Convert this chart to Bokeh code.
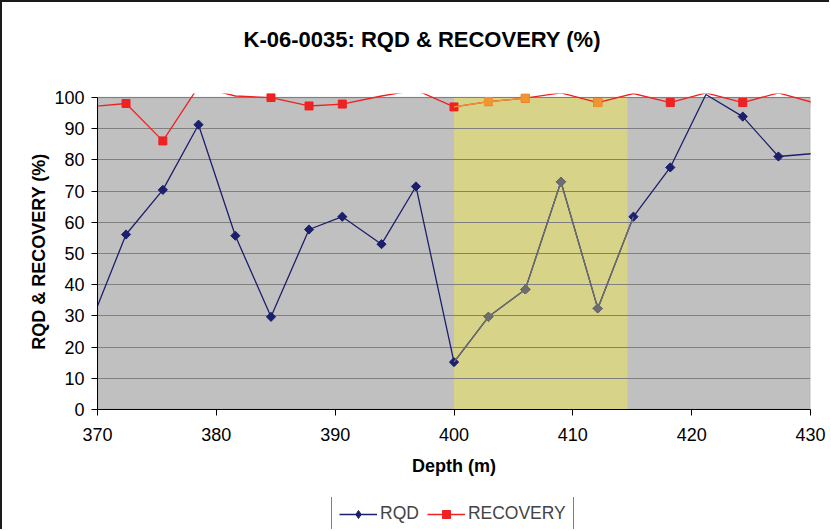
from bokeh.plotting import figure
from bokeh.layouts import column
from bokeh.models import BoxAnnotation, FixedTicker, Legend, LegendItem, ColumnDataSource, Range1d
from bokeh.embed import file_html
from bokeh.resources import INLINE

# ---------------- data ----------------
depth = [369.3, 372.4, 375.5, 378.5, 381.6, 384.6, 387.8, 390.6, 393.9, 396.8,
         400.0, 402.9, 406.0, 409.0, 412.1, 415.1, 418.2, 421.2, 424.3, 427.3, 430.4]
rqd = [26.5, 56.1, 70.4, 91.3, 55.7, 29.7, 57.7, 61.8, 53.0, 71.5,
       15.2, 29.7, 38.5, 73.0, 32.4, 61.8, 77.6, 101.0, 93.9, 81.1, 82.1]
recovery = [97.0, 98.1, 86.1, 103.5, 100.5, 100.0, 97.3, 97.9, 100.5, 102.4,
            97.0, 98.7, 99.8, 101.5, 98.4, 101.3, 98.4, 101.5, 98.4, 101.5, 98.2]
band_start, band_end = 400.0, 414.6          # highlighted depth interval
x_ticks = [370, 380, 390, 400, 410, 420, 430]
y_ticks = [0, 10, 20, 30, 40, 50, 60, 70, 80, 90, 100]
title_text = "K-06-0035: RQD & RECOVERY (%)"
x_label = "Depth (m)"
y_label = "RQD & RECOVERY (%)"
series_names = ["RQD", "RECOVERY"]

X_MIN, X_MAX = 370, 430
Y_MIN, Y_MAX = 0, 100
Y_TOP = 101.3   # lines overshoot a little above the 100 line before clipping

FONT = "Liberation Sans"
NAVY = "#1c1f6c"
RED = "#ee2222"
ORANGE = "#f0952f"
GREY_HL = "#6e6e6e"

W = 829
H_MAIN = 497
H_LEG = 32

p = figure(width=W, height=H_MAIN, x_range=(X_MIN, X_MAX), y_range=(Y_MIN, Y_TOP),
           output_backend="svg", toolbar_location=None,
           title=title_text + "\n",   # blank second line lifts the title upward
           min_border_left=95, min_border_right=21, min_border_top=91, min_border_bottom=90)
p.outline_line_color = None
p.background_fill_color = "white"
p.border_fill_color = "white"

# title
p.title.text_font = FONT
p.title.text_font_size = "22px"
p.title.text_font_style = "bold"
p.title.text_color = "black"
p.title.align = "left"
p.title.vertical_align = "bottom"
p.title.offset = 146
p.title.standoff = 33

# plot area background + highlighted band
p.add_layout(BoxAnnotation(left=X_MIN, right=X_MAX, bottom=Y_MIN, top=Y_MAX,
                           fill_color="#c0c0c0", fill_alpha=1.0,
                           line_color="#808080", line_width=1.5, level="image"))
p.add_layout(BoxAnnotation(left=band_start, right=band_end, bottom=Y_MIN, top=Y_MAX,
                           fill_color="#d7d48a", fill_alpha=1.0, line_color=None,
                           level="image"))

# grid
p.xgrid.visible = False
p.ygrid.ticker = FixedTicker(ticks=y_ticks)
p.ygrid.grid_line_color = "#808080"
p.ygrid.grid_line_width = 1.2

# axes
for ax in (p.xaxis[0], p.yaxis[0]):
    ax.axis_line_color = "black"
    ax.axis_line_width = 1
    ax.major_tick_line_color = "black"
    ax.major_tick_out = 6
    ax.major_tick_in = 0
    ax.minor_tick_line_color = None
    ax.major_label_text_font = FONT
    ax.major_label_text_font_size = "18px"
    ax.major_label_text_color = "black"
    ax.axis_label_text_font = FONT
    ax.axis_label_text_font_size = "18px"
    ax.axis_label_text_font_style = "bold"
    ax.axis_label_text_color = "black"

p.xaxis.ticker = FixedTicker(ticks=x_ticks)
p.yaxis.ticker = FixedTicker(ticks=y_ticks)
p.xaxis.axis_label = x_label
p.yaxis.axis_label = y_label
p.yaxis.bounds = (Y_MIN, Y_MAX)
p.xaxis.major_label_standoff = 12
p.xaxis.axis_label_standoff = 12
p.yaxis.major_label_standoff = 7
p.yaxis.axis_label_standoff = 2

# ---------------- series ----------------
src = ColumnDataSource(dict(depth=depth, rqd=rqd, recovery=recovery))

# markers are shown only where the value lies inside the value axis
rec_vis = [(d, v) for d, v in zip(depth, recovery) if v <= Y_MAX]
rqd_vis = [(d, v) for d, v in zip(depth, rqd) if v <= Y_MAX]

p.line("depth", "recovery", source=src, line_color=RED, line_width=1.3)
p.scatter([d for d, _ in rec_vis], [v for _, v in rec_vis], marker="square",
          size=8, fill_color=RED, line_color=RED)

p.line("depth", "rqd", source=src, line_color=NAVY, line_width=1.3)
p.scatter([d for d, _ in rqd_vis], [v for _, v in rqd_vis], marker="square",
          angle=0.7854, size=6.5, fill_color=NAVY, line_color=NAVY)

# highlighted interval (drawn over the main series)
hl = [i for i, d in enumerate(depth) if band_start <= d <= band_end]
g_idx = hl + [hl[-1] + 1]
p.line([depth[i] for i in g_idx], [rqd[i] for i in g_idx], line_color=GREY_HL, line_width=1.3)
p.scatter([depth[i] for i in hl[1:]], [rqd[i] for i in hl[1:]], marker="square",
          angle=0.7854, size=6.5, fill_color=GREY_HL, line_color=GREY_HL)
seg = [(hl[k], hl[k + 1]) for k in range(len(hl) - 1)
       if recovery[hl[k]] <= Y_MAX and recovery[hl[k + 1]] <= Y_MAX]
p.segment([depth[a] for a, b in seg], [recovery[a] for a, b in seg],
          [depth[b] for a, b in seg], [recovery[b] for a, b in seg],
          line_color=ORANGE, line_width=1.3)
o_idx = [i for i in hl[1:] if recovery[i] <= Y_MAX]
p.scatter([depth[i] for i in o_idx], [recovery[i] for i in o_idx], marker="square",
          size=8, fill_color=ORANGE, line_color=ORANGE)

# ---------------- legend strip below the chart ----------------
lg = figure(width=W, height=H_LEG, x_range=Range1d(0, 1), y_range=Range1d(0, 1),
            output_backend="svg", toolbar_location=None,
            x_axis_type=None, y_axis_type=None, min_border=0)
lg.outline_line_color = None
lg.grid.visible = False
lg.background_fill_color = "white"
lg.border_fill_color = "white"
# same series styles; the data lie outside this strip's ranges so only the legend shows
l_rqd_line = lg.line(depth, rqd, line_color=NAVY, line_width=1.3)
l_rqd_pts = lg.scatter(depth, rqd, marker="diamond", size=11,
                       fill_color=NAVY, line_color=NAVY)
l_rec_line = lg.line(depth, recovery, line_color=RED, line_width=1.3)
l_rec_pts = lg.scatter(depth, recovery, marker="square", size=8,
                       fill_color=RED, line_color=RED)

legend = Legend(items=[LegendItem(label=series_names[0], renderers=[l_rqd_line, l_rqd_pts]),
                       LegendItem(label=series_names[1], renderers=[l_rec_line, l_rec_pts])],
                location=(234, -3), orientation="horizontal",
                label_text_font=FONT, label_text_font_size="17.5px",
                label_standoff=3, glyph_width=38, glyph_height=20,
                spacing=8, padding=7, margin=0,
                border_line_color="black", border_line_width=1,
                background_fill_color="white", background_fill_alpha=1.0)
lg.add_layout(legend)

p.styles = {"border-top": "2px solid #1a1a1a", "border-left": "2px solid #1a1a1a"}
lg.styles = {"border-left": "2px solid #1a1a1a"}

layout = column(p, lg, spacing=0)
open("out.html", "w").write(file_html(layout, INLINE))
